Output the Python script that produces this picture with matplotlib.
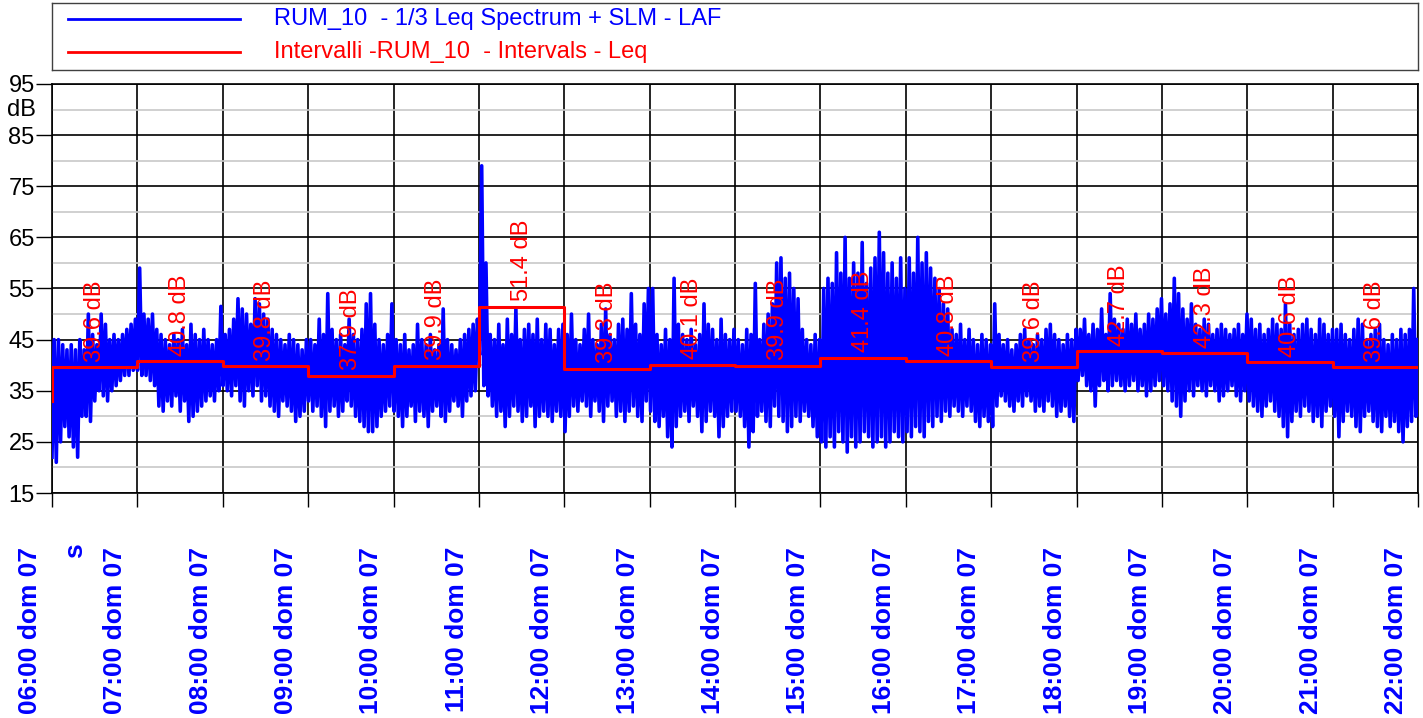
import numpy as np
import matplotlib.pyplot as plt
from matplotlib import transforms

# hour grid of the measurement (06:00 .. 22:00, Sunday 07)
hours = list(range(6, 23))
hour_labels = [f"{h:02d}:00 dom 07" for h in hours]

# hourly interval Leq (red step line)
leq_start_db = 33.0
leq_db = [39.6, 40.8, 39.8, 37.9, 39.9, 51.4, 39.3, 40.1,
          39.9, 41.4, 40.8, 39.6, 42.7, 42.3, 40.6, 39.6]

# LAF: 20 local peaks / troughs per hour (3 min each)
peaks_db = [
    [45, 45, 44, 43, 44, 43, 45, 43, 50, 46, 44, 50, 48, 45, 46, 45, 46, 47, 48, 49],
    [59, 50, 49, 50, 47, 46, 45, 44, 46, 45, 47, 44, 48, 46, 45, 47, 45, 44, 45, 51.5],
    [46, 47, 49, 53, 51, 50, 48, 53, 52, 50, 49, 47, 46, 45, 44, 46, 45, 44, 43, 45],
    [45, 44, 49, 46, 54, 47, 45, 46, 44, 49, 46, 45, 47, 52, 54, 48, 45, 44, 46, 52],
    [45, 44, 46, 43, 44, 48, 45, 44, 46, 43, 44, 51, 45, 44, 43, 45, 46, 47, 48, 49],
    [79, 60, 46, 45, 48, 44, 49, 46, 51, 45, 47, 48, 46, 49, 45, 48, 47, 44, 47, 48],
    [46, 50, 45, 44, 47, 50, 45, 44, 48, 51, 46, 45, 48, 49, 47, 54, 48, 46, 52, 55],
    [55, 46, 44, 47, 45, 57, 48, 46, 45, 47, 44, 46, 52, 48, 47, 45, 49, 46, 45, 47],
    [45, 44, 47, 46, 56, 45, 48, 50, 52, 60, 61, 57, 58, 55, 53, 47, 45, 44, 46, 45],
    [55, 57, 56, 62, 58, 65, 57, 60, 58, 64, 56, 59, 61, 66, 62, 58, 60, 57, 61, 55],
    [61, 58, 65, 60, 62, 59, 57, 55, 52, 51, 47, 46, 48, 45, 47, 45, 44, 46, 45, 44],
    [52, 46, 44, 45, 43, 44, 46, 47, 45, 44, 46, 45, 47, 48, 46, 45, 44, 46, 45, 47],
    [47, 49, 46, 48, 47, 51, 46, 54, 49, 48, 47, 49, 48, 50, 47, 48, 50, 49, 51, 53],
    [50, 52, 57, 54, 51, 49, 52, 48, 47, 49, 48, 46, 47, 48, 47, 46, 47, 48, 46, 50],
    [49, 47, 48, 46, 47, 49, 48, 47, 52, 48, 46, 47, 48, 49, 47, 46, 49, 48, 46, 47],
    [47, 48, 46, 45, 47, 49, 48, 45, 46, 47, 48, 45, 44, 46, 45, 47, 46, 47, 55, 45],
]
troughs_db = [
    [22, 21, 25, 28, 26, 24, 22, 30, 30, 29, 33, 35, 34, 33, 35, 36, 37, 38, 38, 39],
    [39, 38, 38, 37, 36, 32, 31, 33, 32, 34, 31, 33, 29, 30, 31, 32, 33, 34, 33, 35],
    [36, 35, 34, 36, 33, 32, 35, 34, 36, 33, 34, 32, 31, 30, 33, 32, 31, 29, 30, 31],
    [33, 31, 32, 30, 28, 31, 32, 30, 31, 33, 32, 30, 29, 28, 27, 27, 28, 30, 31, 32],
    [31, 30, 28, 30, 32, 29, 31, 30, 28, 31, 32, 30, 29, 31, 33, 32, 30, 33, 34, 35],
    [42, 36, 34, 32, 30, 31, 28, 30, 32, 31, 29, 30, 32, 28, 30, 31, 30, 29, 31, 30],
    [27, 30, 32, 31, 33, 32, 30, 33, 31, 29, 32, 33, 30, 31, 29, 31, 32, 30, 29, 33],
    [31, 29, 28, 30, 26, 24, 28, 30, 31, 29, 32, 30, 27, 29, 31, 30, 26, 28, 30, 31],
    [31, 30, 28, 24, 27, 30, 31, 29, 28, 32, 30, 29, 27, 28, 30, 29, 31, 30, 28, 26],
    [25, 24, 26, 24, 27, 25, 23, 26, 24, 25, 27, 26, 24, 25, 26, 24, 25, 27, 26, 25],
    [27, 26, 28, 27, 26, 29, 28, 30, 29, 31, 30, 32, 31, 30, 32, 31, 29, 28, 30, 29],
    [28, 32, 34, 33, 32, 31, 33, 32, 34, 33, 31, 32, 31, 33, 32, 30, 31, 32, 30, 29],
    [37, 38, 36, 35, 32, 36, 37, 35, 36, 37, 36, 35, 36, 37, 35, 36, 34, 35, 36, 37],
    [36, 35, 33, 32, 30, 33, 35, 34, 36, 35, 34, 36, 35, 33, 34, 35, 36, 34, 33, 35],
    [33, 32, 31, 30, 32, 33, 31, 30, 28, 26, 29, 31, 30, 32, 31, 29, 30, 28, 31, 32],
    [30, 26, 29, 31, 30, 28, 27, 30, 31, 29, 28, 27, 30, 28, 29, 27, 25, 28, 29, 30],
]

BLUE = "#0000ff"
RED = "#ff0000"
W, H = 1423, 718

# interleave troughs and peaks into one LAF trace
pk = np.array(peaks_db, dtype=float).ravel()
tr = np.array(troughs_db, dtype=float).ravel()
laf = np.empty(pk.size * 2)
laf[0::2] = tr
laf[1::2] = pk
t = np.linspace(hours[0], hours[-1], laf.size)

fig = plt.figure(figsize=(W / 100, H / 100), dpi=100)
ax = fig.add_axes([52 / W, (H - 493) / H, 1366 / W, 409 / H])

ax.plot(t, laf, color=BLUE, lw=2.6, zorder=3)

# red interval steps
x_step = [hours[0]] + hours
y_step = [leq_start_db] + leq_db + [leq_db[-1]]
ax.plot(x_step, y_step, color=RED, lw=2.2, drawstyle="steps-post", zorder=4)

for h, v in zip(hours[:-1], leq_db):
    ax.annotate(f"{v:.1f} dB", (h + 0.5, v), xytext=(0, 4),
                textcoords="offset points", rotation=90, ha="center",
                va="bottom", color=RED, fontsize=17,
                family="Liberation Sans", zorder=5)

ax.set_xlim(hours[0], hours[-1])
ax.set_ylim(15, 95)
ax.set_xticks(hours)
ax.set_xticklabels([])
ax.set_yticks(range(15, 96, 10))
ax.set_yticks(range(20, 91, 10), minor=True)
ax.grid(which="major", color="black", lw=1.2, zorder=1)
ax.grid(which="minor", axis="y", color="#c8c8c8", lw=1.2, zorder=0)
ax.tick_params(axis="y", which="major", length=11.5, width=1, pad=1,
               labelsize=17)
ax.tick_params(axis="y", which="minor", length=0)
ax.tick_params(axis="x", length=10, width=1)
for lbl in ax.get_yticklabels():
    lbl.set_family("Liberation Sans")
for s in ax.spines.values():
    s.set_color("black")
    s.set_linewidth(1.2)

# unit in place of the 90 tick
ax.text(-16 / 1366, 90, "dB", transform=transforms.blended_transform_factory(
    ax.transAxes, ax.transData), ha="right", va="center", fontsize=17,
    family="Liberation Sans")

# rotated time labels, shifted left of their hour line
trans = transforms.blended_transform_factory(ax.transData, fig.transFigure) + \
    transforms.ScaledTranslation(-22 / 100, 0, fig.dpi_scale_trans)
for h, lab in zip(hours, hour_labels):
    ax.text(h, (H - 547) / H, lab, transform=trans, rotation=90, ha="center",
            va="top", color=BLUE, fontsize=19, fontweight="bold",
            family="Liberation Sans", clip_on=False)
fig.text(75 / W, 1 - 551 / H, "s", rotation=90, ha="center", va="center",
         color=BLUE, fontsize=19, fontweight="bold", family="Liberation Sans")

# legend box
lax = fig.add_axes([52 / W, (H - 70) / H, 1366 / W, 67 / H])
lax.set_xlim(0, 1366)
lax.set_ylim(67, 0)
lax.set_xticks([])
lax.set_yticks([])
for s in lax.spines.values():
    s.set_color("#404040")
    s.set_linewidth(1)
lax.plot([16, 188], [16, 16], color=BLUE, lw=2)
lax.plot([16, 188], [49, 49], color=RED, lw=2)
lax.text(222, 16, "RUM_10  - 1/3 Leq Spectrum + SLM - LAF", color=BLUE,
         va="center", fontsize=17, family="Liberation Sans")
lax.text(222, 49, "Intervalli -RUM_10  - Intervals - Leq", color=RED,
         va="center", fontsize=17, family="Liberation Sans")

fig.savefig("out.png", dpi=100)
